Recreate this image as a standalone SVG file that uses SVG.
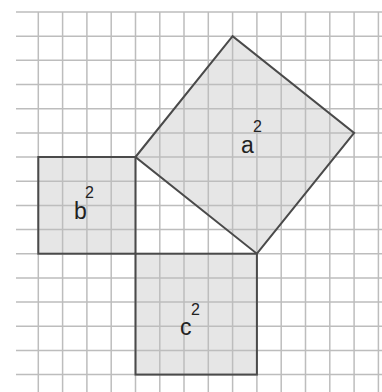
<svg xmlns="http://www.w3.org/2000/svg" width="382" height="392" viewBox="0 0 382 392">
<style>
.fill{fill:#e6e6e6;stroke:none}
.edge{fill:none;stroke:#4a4a4a;stroke-width:2;stroke-linejoin:miter}
.grid line{stroke:#bdbdbd;stroke-width:1.5}
.lt{font-family:"Liberation Sans",Arial,sans-serif;font-size:23px;fill:#222}
.sup{font-family:"Liberation Sans",Arial,sans-serif;font-size:16px;fill:#222}
</style>
<rect x="0" y="0" width="382" height="392" fill="#ffffff"/>
<g id="fills">
<rect class="fill" x="38.3" y="157" width="97.2" height="96.7"/>
<rect class="fill" x="135.5" y="253.7" width="121.4" height="120.9"/>
<polygon class="fill" points="135.5,157 232.6,36.2 354.1,132.9 256.9,253.7"/>
</g>
<g class="grid" id="grid">
<line x1="38.3" y1="12" x2="38.3" y2="392"/>
<line x1="62.6" y1="12" x2="62.6" y2="392"/>
<line x1="86.9" y1="12" x2="86.9" y2="392"/>
<line x1="111.2" y1="12" x2="111.2" y2="392"/>
<line x1="135.5" y1="12" x2="135.5" y2="392"/>
<line x1="159.8" y1="12" x2="159.8" y2="392"/>
<line x1="184.0" y1="12" x2="184.0" y2="392"/>
<line x1="208.3" y1="12" x2="208.3" y2="392"/>
<line x1="232.6" y1="12" x2="232.6" y2="392"/>
<line x1="256.9" y1="12" x2="256.9" y2="392"/>
<line x1="281.2" y1="12" x2="281.2" y2="392"/>
<line x1="305.5" y1="12" x2="305.5" y2="392"/>
<line x1="329.8" y1="12" x2="329.8" y2="392"/>
<line x1="354.1" y1="12" x2="354.1" y2="392"/>
<line x1="378.4" y1="12" x2="378.4" y2="392"/>
<line x1="16" y1="12" x2="382" y2="12"/>
<line x1="16" y1="36.2" x2="382" y2="36.2"/>
<line x1="16" y1="60.3" x2="382" y2="60.3"/>
<line x1="16" y1="84.5" x2="382" y2="84.5"/>
<line x1="16" y1="108.7" x2="382" y2="108.7"/>
<line x1="16" y1="132.9" x2="382" y2="132.9"/>
<line x1="16" y1="157.0" x2="382" y2="157.0"/>
<line x1="16" y1="181.2" x2="382" y2="181.2"/>
<line x1="16" y1="205.4" x2="382" y2="205.4"/>
<line x1="16" y1="229.5" x2="382" y2="229.5"/>
<line x1="16" y1="253.7" x2="382" y2="253.7"/>
<line x1="16" y1="277.9" x2="382" y2="277.9"/>
<line x1="16" y1="302.0" x2="382" y2="302.0"/>
<line x1="16" y1="326.2" x2="382" y2="326.2"/>
<line x1="16" y1="350.4" x2="382" y2="350.4"/>
<line x1="16" y1="374.6" x2="382" y2="374.6"/>
</g>
<g id="square-b">
<rect class="edge" x="38.3" y="157" width="97.2" height="96.7"/>
<text class="lt" x="74" y="219">b</text>
<text class="sup" x="85" y="198">2</text>
</g>
<g id="square-c">
<rect class="edge" x="135.5" y="253.7" width="121.4" height="120.9"/>
<text class="lt" x="180" y="335">c</text>
<text class="sup" x="191" y="315">2</text>
</g>
<g id="square-a">
<polygon class="edge" points="135.5,157 232.6,36.2 354.1,132.9 256.9,253.7"/>
<text class="lt" x="241" y="153">a</text>
<text class="sup" x="253" y="132">2</text>
</g>
<g id="connectors"></g>
</svg>
